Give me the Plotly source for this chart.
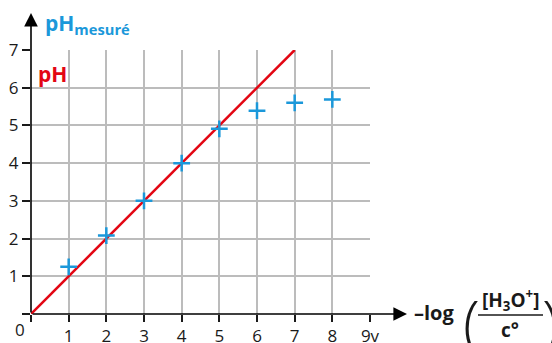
import plotly.graph_objects as go

# ---- data ----
x_measured = [1, 2, 3, 4, 5, 6, 7, 8]
ph_measured = [1.25, 2.08, 3.0, 4.0, 4.91, 5.39, 5.6, 5.69]
x_theory = [0, 7]
ph_theory = [0, 7]
x_tickvals = [0, 1, 2, 3, 4, 5, 6, 7, 8, 9]
x_ticktext = ["", "1", "2", "3", "4", "5", "6", "7", "8", "9v"]
y_tickvals = [0, 1, 2, 3, 4, 5, 6, 7]
y_ticktext = ["", "1", "2", "3", "4", "5", "6", "7"]

BLUE = "#1b98da"
RED = "#e30613"
GRID = "#bcbcbc"
INK = "#1a1a1a"
FONT = "Open Sans"

W, H = 552, 343
L, R, T, B = 31, 182, 50, 29
PW, PH = W - L - R, H - T - B


def px(x):
    return (x - L) / PW


def py(y):
    return (H - B - y) / PH


fig = go.Figure()
fig.add_trace(go.Scatter(x=x_theory, y=ph_theory, mode="lines",
                         line=dict(color=RED, width=2.5), cliponaxis=False,
                         hoverinfo="skip", showlegend=False))
fig.add_trace(go.Scatter(x=x_measured, y=ph_measured, mode="markers",
                         marker=dict(symbol="cross-thin", size=12,
                                     line=dict(color=BLUE, width=2.5)),
                         cliponaxis=False, showlegend=False))

annotations = [
    # axes arrows
    dict(xref="paper", yref="paper", x=px(407), y=py(314), axref="pixel", ayref="pixel",
         ax=-(407 - L), ay=0, showarrow=True, arrowhead=2, arrowsize=1.7,
         arrowwidth=1.6, arrowcolor="black", text=""),
    dict(xref="paper", yref="paper", x=px(L), y=py(13), axref="pixel", ayref="pixel",
         ax=0, ay=(H - B - 13), showarrow=True, arrowhead=2, arrowsize=1.7,
         arrowwidth=1.6, arrowcolor="black", text=""),
    # labels
    dict(xref="paper", yref="paper", x=px(20), y=py(329), xanchor="center", yanchor="middle",
         text="0", showarrow=False,
         font=dict(family=FONT, size=17, color=INK)),
    dict(xref="paper", yref="paper", x=px(43), y=py(24), xanchor="left", yanchor="middle",
         text="<b>pH<sub>mesuré</sub></b>", showarrow=False,
         font=dict(family=FONT, size=21, color=BLUE)),
    dict(xref="paper", yref="paper", x=px(36), y=py(74), xanchor="left", yanchor="middle",
         text="<b>pH</b>", showarrow=False,
         font=dict(family=FONT, size=21, color=RED)),
    dict(xref="paper", yref="paper", x=px(412), y=py(312), xanchor="left", yanchor="middle",
         text="<b>–log</b>", showarrow=False,
         font=dict(family=FONT, size=20, color=INK)),
    dict(xref="paper", yref="paper", x=px(471), y=py(322), xanchor="center", yanchor="middle",
         text="(", showarrow=False,
         font=dict(family=FONT, size=62, color=INK, weight=300)),
    dict(xref="paper", yref="paper", x=px(550), y=py(322), xanchor="center", yanchor="middle",
         text=")", showarrow=False,
         font=dict(family=FONT, size=62, color=INK, weight=300)),
    dict(xref="paper", yref="paper", x=px(510), y=py(300), xanchor="center", yanchor="middle",
         text="<b>[H<sub>3</sub>O<sup>+</sup>]</b>", showarrow=False,
         font=dict(family=FONT, size=19, color=INK)),
    dict(xref="paper", yref="paper", x=px(510), y=py(330), xanchor="center", yanchor="middle",
         text="<b>c°</b>", showarrow=False,
         font=dict(family=FONT, size=19, color=INK)),
]

shapes = [
    dict(type="line", xref="paper", yref="paper", x0=px(478), x1=px(543),
         y0=py(315), y1=py(315), line=dict(color=INK, width=1.5)),
]

fig.update_layout(
    width=W, height=H,
    margin=dict(l=L, r=R, t=T, b=B, pad=0, autoexpand=False),
    paper_bgcolor="white", plot_bgcolor="white",
    font=dict(family=FONT, size=16, color=INK),
    annotations=annotations, shapes=shapes,
    showlegend=False,
)
fig.update_xaxes(range=[0, 9], tickmode="array", tickvals=x_tickvals, ticktext=x_ticktext,
                 showgrid=True, gridcolor=GRID, gridwidth=1.5, zeroline=False, showline=False,
                 ticks="outside", ticklen=7, tickcolor=INK, tickwidth=1.5,
                 ticklabelstandoff=0, automargin=False,
                 tickfont=dict(family=FONT, size=17, color=INK), fixedrange=True)
fig.update_yaxes(range=[0, 7], tickmode="array", tickvals=y_tickvals, ticktext=y_ticktext,
                 showgrid=True, gridcolor=GRID, gridwidth=1.5, zeroline=False, showline=False,
                 ticks="outside", ticklen=8, tickcolor=INK, tickwidth=1.5, automargin=False,
                 tickfont=dict(family=FONT, size=17, color=INK), fixedrange=True)

fig.write_html("out.html")
